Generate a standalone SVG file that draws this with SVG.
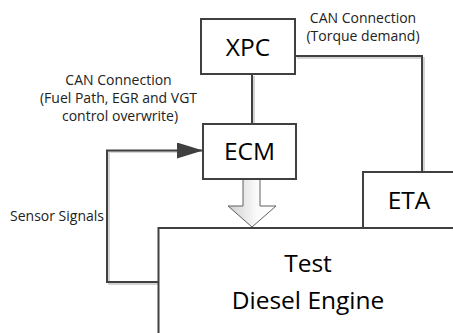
<svg xmlns="http://www.w3.org/2000/svg" width="453" height="333" viewBox="0 0 453 333">
<style>
.box{fill:#fff;stroke:#404040;stroke-width:2}
.shadow{fill:none;stroke:#d4d4d4;stroke-width:2}
.ln{fill:none;stroke:#404040;stroke-width:2}
.big{font-family:"Open Sans","Liberation Sans",sans-serif;font-size:24.5px;fill:#000;text-anchor:middle}
.lbl{font-family:"Open Sans","Liberation Sans",sans-serif;font-size:14px;fill:#222;text-anchor:middle}
</style>
<defs>
<linearGradient id="g" x1="0" y1="0" x2="1" y2="0">
<stop offset="0" stop-color="#cfcfcf"/>
<stop offset="0.6" stop-color="#fafafa"/>
<stop offset="1" stop-color="#ffffff"/>
</linearGradient>
<marker id="ah" markerWidth="26" markerHeight="16" refX="26" refY="8" orient="auto" markerUnits="userSpaceOnUse">
<path d="M0,0 L26,8 L0,16 Z" fill="#404040"/>
</marker>
</defs>
<g id="connectors">
<path class="shadow" d="M297,58 H424 V172"/>
<path class="ln" d="M295,56 H422 V172"/>
<path class="shadow" d="M254,76 V124"/>
<path class="ln" d="M252,74 V124"/>
<path class="shadow" d="M160,284 H109 V152 H180"/>
<path class="ln" d="M158,282 H107 V150.5 H203" marker-end="url(#ah)"/>
<path id="blockarrow" d="M243,179 H260 V206 H276 L252,227 L228,206 H243 Z" fill="url(#g)" stroke="#606060" stroke-width="1"/>
</g>
<g id="engine">
<path class="shadow" d="M160,335 V230 H455"/>
<path class="box" d="M158.5,340 V228 H460"/>
<text class="big" x="308" y="272">Test</text>
<text class="big" x="308" y="309">Diesel Engine</text>
</g>
<g id="eta">
<rect class="box" x="363" y="172" width="100" height="56"/>
<text class="big" x="409" y="209">ETA</text>
</g>
<g id="xpc">
<rect class="box" x="201" y="19" width="94" height="55"/>
<text class="big" x="248" y="56">XPC</text>
</g>
<g id="ecm">
<rect class="box" x="203" y="124" width="93" height="55"/>
<text class="big" x="249.5" y="160">ECM</text>
</g>
<g id="labels">
<text class="lbl" x="363" y="23">CAN Connection</text>
<text class="lbl" x="363" y="40.5">(Torque demand)</text>
<text class="lbl" x="118.5" y="85">CAN Connection</text>
<text class="lbl" x="118.5" y="103">(Fuel Path, EGR and VGT</text>
<text class="lbl" x="120" y="121">control overwrite)</text>
<text class="lbl" x="104" y="221" style="text-anchor:end">Sensor Signals</text>
</g>
</svg>
